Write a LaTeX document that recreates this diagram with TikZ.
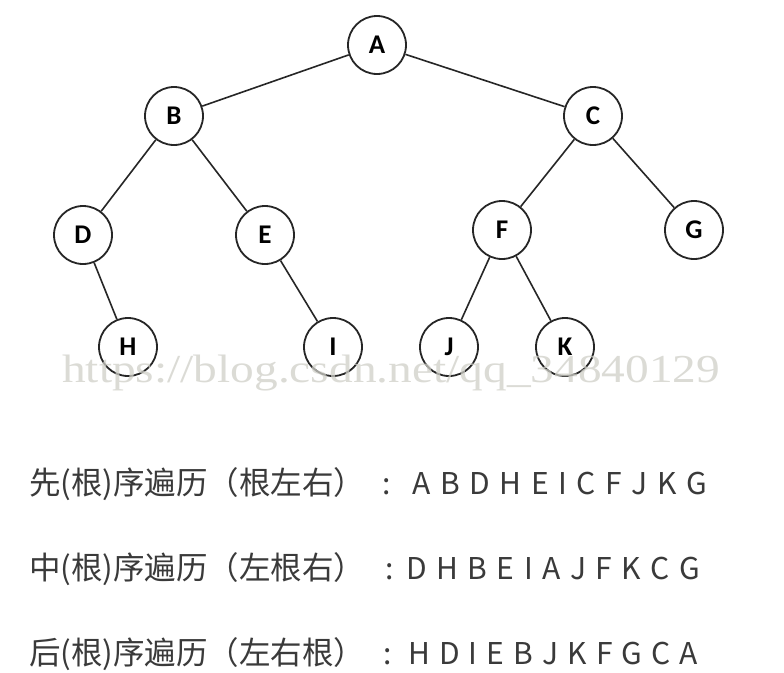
\documentclass[tikz,border=0pt]{standalone}
\usepackage{fontspec}
\newfontfamily\cjk{Noto Sans CJK SC}
\newfontfamily\nodefont{Carlito}
\newfontfamily\wmfont{Liberation Serif}
\definecolor{txt}{HTML}{3A3A3A}
\definecolor{wm}{HTML}{CFCFC8}
\begin{document}
\begin{tikzpicture}[x=1pt,y=-1pt,
  tnode/.style={circle,draw=black!85,line width=1.8pt,minimum size=58pt,inner sep=0pt,
    font=\nodefont\bfseries\fontsize{27}{27}\selectfont},
  treelink/.style={line width=1.6pt,draw=black!85},
  pfxtext/.style={anchor=base west,inner sep=0pt,text=txt,font=\cjk\fontsize{31.5}{31.5}\selectfont},
  colontext/.style={anchor=base,inner sep=0pt,text=txt,font=\cjk\fontsize{30}{30}\selectfont},
  seqtext/.style={anchor=base west,inner sep=0pt,text=txt,font=\cjk\fontsize{30}{30}\selectfont},
  wmtext/.style={anchor=base west,inner sep=0pt,text=wm,opacity=0.75}
]
\fill[white] (0,0) rectangle (784,672);
\useasboundingbox (0,0) rectangle (784,672);

\node[tnode] (A) at (377,45) {A};
\node[tnode] (B) at (174,116) {B};
\node[tnode] (C) at (593,116) {C};
\node[tnode] (D) at (83,235) {D};
\node[tnode] (E) at (265,235) {E};
\node[tnode] (F) at (502,230) {F};
\node[tnode] (G) at (694,230) {G};
\node[tnode] (H) at (128,347) {H};
\node[tnode] (I) at (333,347) {I};
\node[tnode] (J) at (449,347) {J};
\node[tnode] (K) at (565,347) {K};

\draw[treelink] (A) -- (B);
\draw[treelink] (A) -- (C);
\draw[treelink] (B) -- (D);
\draw[treelink] (B) -- (E);
\draw[treelink] (C) -- (F);
\draw[treelink] (C) -- (G);
\draw[treelink] (D) -- (H);
\draw[treelink] (E) -- (I);
\draw[treelink] (F) -- (J);
\draw[treelink] (F) -- (K);

\node[wmtext] (wmark) at (62,382)
  {\resizebox{658pt}{27.5pt}{\wmfont\fontsize{40}{40}\selectfont https://blog.csdn.net/qq\_34840129}};

\node[pfxtext] (p1) at (29,494) {先(根)序遍历（根左右）};
\node[colontext] (c1) at (387,494) {:};
\node[seqtext] (l1) at (412,494) {\makebox[295pt][s]{A\hfill B\hfill D\hfill H\hfill E\hfill I\hfill C\hfill F\hfill J\hfill K\hfill G}};

\node[pfxtext] (p2) at (29,579) {中(根)序遍历（左根右）};
\node[colontext] (c2) at (390,579) {:};
\node[seqtext] (l2) at (406,579) {\makebox[294pt][s]{D\hfill H\hfill B\hfill E\hfill I\hfill A\hfill J\hfill F\hfill K\hfill C\hfill G}};

\node[pfxtext] (p3) at (29,664) {后(根)序遍历（左右根）};
\node[colontext] (c3) at (388,664) {:};
\node[seqtext] (l3) at (408,664) {\makebox[290pt][s]{H\hfill D\hfill I\hfill E\hfill B\hfill J\hfill K\hfill F\hfill G\hfill C\hfill A}};
\end{tikzpicture}
\end{document}
